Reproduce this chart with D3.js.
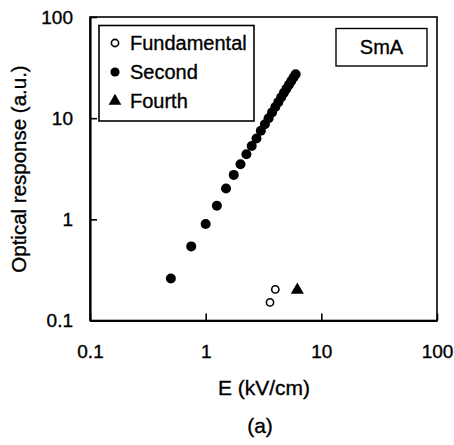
<!DOCTYPE html>
<html><head><meta charset="utf-8">
<script src="https://cdn.jsdelivr.net/npm/d3@7"></script>
<style>body{margin:0;background:#fff}svg{display:block}text{font-family:"Liberation Sans",Arial,sans-serif;fill:#000;stroke:#000;stroke-width:0.35px}</style>
</head><body><svg id="c" width="454" height="445"></svg>
<script>
const secondE = [0.5,0.75,1.0,1.25,1.5,1.75,2.0,2.25,2.5,2.75,3.0,3.25,3.5,3.75,4.0,4.25,4.5,4.75,5.0,5.25,5.5,5.75,6.0];
const secondR = [0.26,0.54,0.90,1.36,2.02,2.75,3.5,4.4,5.3,6.3,7.5,8.7,10.0,11.4,12.9,14.4,16.1,17.8,19.6,21.4,23.3,25.2,27.2];
const fundE = [3.6,4.0];
const fundR = [0.151,0.203];
const fourthE = [6.2];
const fourthR = [0.2];
const tickVals = [0.1,1,10,100];
const tickLabels = ["0.1","1","10","100"];
const legendNames = ["Fundamental","Second","Fourth"];

const svg = d3.select("#c");
const L=90,R=437,T=17,B=320.5;
const x = d3.scaleLog().domain([0.1,100]).range([L,R]);
const y = d3.scaleLog().domain([0.1,100]).range([B,T]);

// frame
svg.append("rect").attr("x",L).attr("y",T).attr("width",R-L).attr("height",B-T)
  .attr("fill","none").attr("stroke","#000").attr("stroke-width",1.6);

const fmt = d => tickLabels[tickVals.indexOf(d)];
const xa = svg.append("g").attr("transform",`translate(0,${B})`)
  .call(d3.axisBottom(x).tickValues(tickVals).tickFormat(fmt).tickSizeInner(-7).tickSizeOuter(0).tickPadding(14));
const ya = svg.append("g").attr("transform",`translate(${L},0)`)
  .call(d3.axisLeft(y).tickValues(tickVals).tickFormat(fmt).tickSizeInner(-7).tickSizeOuter(0).tickPadding(18));
[xa,ya].forEach(g=>{
  g.select(".domain").attr("stroke","#000").attr("stroke-width",2.2);
  g.selectAll(".tick line").attr("stroke","#000").attr("stroke-width",1.6);
  g.selectAll(".tick text").attr("font-size",19).attr("font-family","Liberation Sans, Arial, sans-serif").attr("fill","#000");
});
xa.selectAll(".tick text").attr("dy","0.71em").attr("y",24);
ya.selectAll(".tick text").attr("x",-17);

// data
svg.append("g").selectAll("circle").data(secondE).join("circle")
  .attr("cx",(d,i)=>x(d)).attr("cy",(d,i)=>y(secondR[i])).attr("r",5).attr("fill","#000");
svg.append("g").selectAll("circle").data(fundE).join("circle")
  .attr("cx",(d,i)=>x(d)).attr("cy",(d,i)=>y(fundR[i])).attr("r",3.6)
  .attr("fill","#fff").attr("stroke","#000").attr("stroke-width",1.6);
const tri = d3.symbol().type(d3.symbolTriangle).size(75);
svg.append("g").selectAll("path").data(fourthE).join("path")
  .attr("transform",(d,i)=>`translate(${x(d)},${y(fourthR[i])})`).attr("d",tri()).attr("fill","#000");

// legend
svg.append("rect").attr("x",99).attr("y",25.5).attr("width",155).attr("height",95.5)
  .attr("fill","#fff").attr("stroke","#000").attr("stroke-width",1.6);
const ly = [43,72,101];
const lg = svg.append("g");
lg.append("circle").attr("cx",115).attr("cy",ly[0]).attr("r",3.6).attr("fill","#fff").attr("stroke","#000").attr("stroke-width",1.6);
lg.append("circle").attr("cx",115).attr("cy",ly[1]).attr("r",4.6).attr("fill","#000");
lg.append("path").attr("transform",`translate(115,${ly[2]})`).attr("d",d3.symbol().type(d3.symbolTriangle).size(70)()).attr("fill","#000");
lg.selectAll("text").data(legendNames).join("text")
  .attr("x",130).attr("y",(d,i)=>ly[i]).attr("dy","0.36em").attr("font-size",20).text(d=>d);

// SmA box
svg.append("rect").attr("x",336).attr("y",28.5).attr("width",91).attr("height",37.5)
  .attr("fill","#fff").attr("stroke","#000").attr("stroke-width",1.4);
svg.append("text").attr("x",381.5).attr("y",47).attr("dy","0.36em").attr("text-anchor","middle").attr("font-size",20).text("SmA");

// axis titles
svg.append("text").attr("x",264).attr("y",395).attr("text-anchor","middle").attr("font-size",21).text("E (kV/cm)");
svg.append("text").attr("transform","translate(26,169) rotate(-90)").attr("text-anchor","middle").attr("font-size",20.5).text("Optical response (a.u.)");
svg.append("text").attr("x",260).attr("y",433).attr("text-anchor","middle").attr("font-size",21).text("(a)");
</script></body></html>
